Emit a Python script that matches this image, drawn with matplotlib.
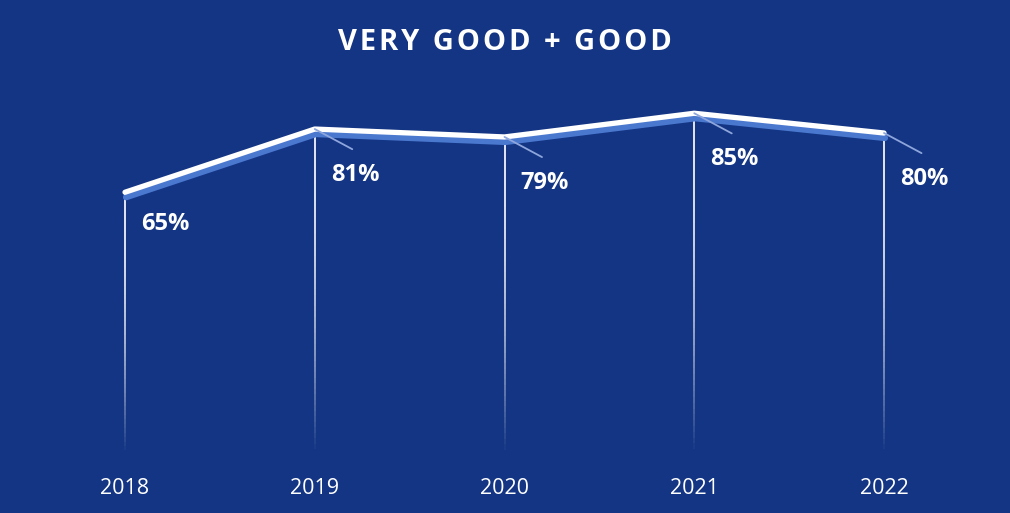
import matplotlib.pyplot as plt
import numpy as np
from matplotlib.collections import LineCollection
from matplotlib.transforms import ScaledTranslation

years = ["2018", "2019", "2020", "2021", "2022"]
values = [65, 81, 79, 85, 80]
labels = ["65%", "81%", "79%", "85%", "80%"]
title = "VERY GOOD + GOOD"

bg = "#133584"
fig = plt.figure(figsize=(10.10, 5.13), dpi=100, facecolor=bg)
ax = fig.add_axes([0, 0, 1, 1])
ax.set_facecolor(bg)
ax.set_xlim(-0.6588, 4.664)
ax.set_ylim(-16.2, 113.67)
ax.axis("off")

x = np.arange(len(years))

# vertical drop lines fading towards the bottom
for xi, v in zip(x, values):
    ys = np.linspace(v, -1.5, 60)
    segs = [[(xi, ys[i]), (xi, ys[i + 1])] for i in range(len(ys) - 1)]
    t = np.linspace(0, 1, len(segs))
    alpha = np.clip(1 - t ** 2.2, 0, 1) * 0.95
    cols = [(1, 1, 1, a) for a in alpha]
    ax.add_collection(LineCollection(segs, colors=cols, linewidths=1.3, zorder=2))

# shadow + main line
shift = ax.transData + ScaledTranslation(1 / 100, -5 / 100, fig.dpi_scale_trans)
ax.plot(x, values, color="#4a78cf", lw=4.5, zorder=3, solid_capstyle="round",
        transform=shift)
ax.plot(x, values, color="white", lw=3.8, zorder=4, solid_capstyle="round")

# leader lines and value labels
for i, (xi, v, lab) in enumerate(zip(x, values, labels)):
    if i > 0:
        ax.annotate("", xy=(xi, v), xytext=(27, -14.5), textcoords="offset points",
                    arrowprops=dict(arrowstyle="-", color="#8ea6dc", lw=1.3,
                                    shrinkA=0, shrinkB=0), zorder=5)
        off = (29, -33)
    else:
        off = (29, -23)
    ax.annotate(lab, xy=(xi, v), xytext=off, textcoords="offset points",
                ha="center", va="center", color="white", fontsize=17,
                fontweight="bold", family="Open Sans", zorder=6)

for xi, yr in zip(x, years):
    ax.text(xi, -9.9, yr, ha="center", va="center", color="white",
            fontsize=15.5, family="Open Sans")

spaced = "\u200a".join(title)
fig.text(0.5, 1 - 42 / 513, spaced,
         ha="center", va="center", color="white", fontsize=21,
         fontweight="bold", family=["Open Sans", "DejaVu Sans"])

fig.savefig("out.png", dpi=100, facecolor=bg)
